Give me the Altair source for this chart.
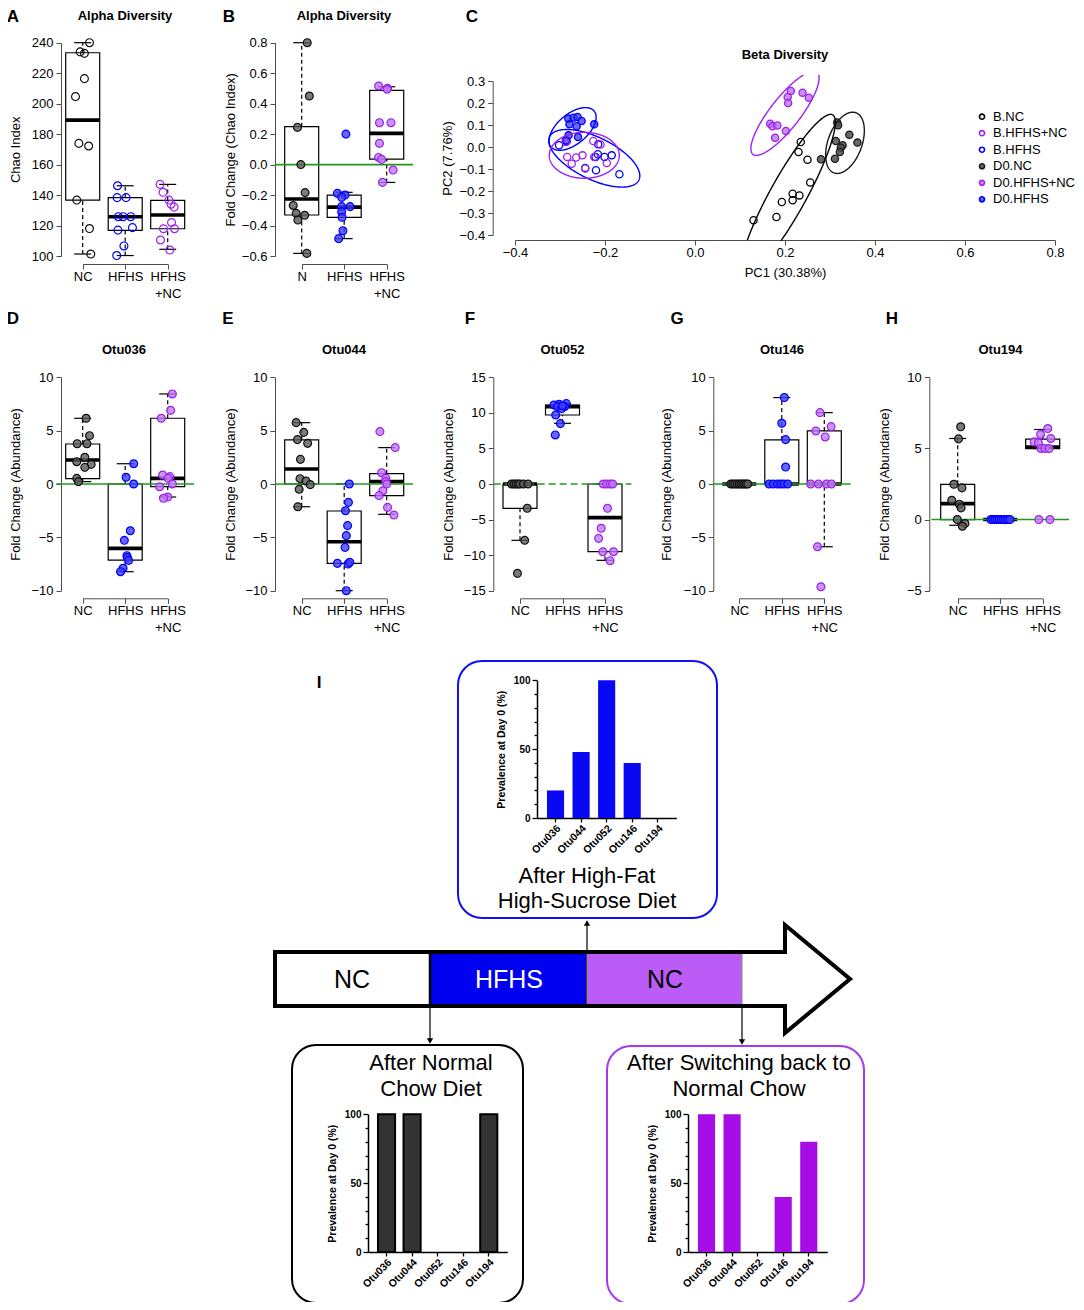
import json
import numpy as np
import pandas as pd
import altair as alt

# ---------------------------------------------------------------- canvas
W, H = 1068, 1294
M = 8
FONT = "Liberation Sans"
AXC = "#4d4d4d"
GREEN = "#1f9a1f"


def P(v):
    return v - M


GROUPS = ["NC", "HFHS", "HFHS+NC"]
PT_FILL = {"NC": "#5a5a5a", "HFHS": "#4040f2", "HFHS+NC": "#bd7cf0"}
PT_EDGE = {"NC": "#111111", "HFHS": "#0000ff", "HFHS+NC": "#a020f0"}
X_LABELS = ["NC", "HFHS", "HFHS\n+NC"]
X_LABELS_B = ["N", "HFHS", "HFHS\n+NC"]

# ---------------------------------------------------------------- panel A (Chao index)
A_VALS = {
    "NC": [240, 234, 233, 216.4, 204.6, 173.9, 172.2, 136.7, 118, 101.3],
    "HFHS": [146.1, 138.3, 138.3, 125.8, 125.8, 125.8, 117, 118.6, 106.6, 100.3],
    "HFHS+NC": [147, 141.8, 136.7, 134, 132.1, 122, 117.9, 117.9, 110.5, 103.9],
}
A_JIT = {
    "NC": [0.16, -0.06, 0.04, 0.04, -0.17, -0.09, 0.14, -0.14, 0.16, 0.19],
    "HFHS": [-0.18, -0.19, 0.02, -0.16, -0.05, 0.13, -0.17, 0.17, -0.03, -0.2],
    "HFHS+NC": [-0.18, -0.11, 0.03, 0.08, 0.15, 0.09, -0.1, 0.16, -0.17, 0.05],
}
A_BOX = {  # q1, median, q3, lower whisker, upper whisker
    "NC": (136.7, 189.2, 233.4, 101.3, 240),
    "HFHS": (116.8, 125.8, 138.3, 100.3, 146.1),
    "HFHS+NC": (117.9, 126.9, 136.5, 104.4, 147),
}

# ---------------------------------------------------------------- panel B (fold change Chao)
B_VALS = {
    "NC": [0.8, 0.45, 0.244, 0.0, -0.184, -0.268, -0.32, -0.333, -0.364, -0.583],
    "HFHS": [0.2, -0.189, -0.2, -0.215, -0.276, -0.276, -0.31, -0.346, -0.434, -0.486],
    "HFHS+NC": [0.516, 0.5, 0.494, 0.275, 0.275, 0.139, 0.047, 0.034, -0.036, -0.117],
}
B_JIT = {
    "NC": [0.13, 0.18, -0.1, -0.02, 0.08, -0.2, -0.13, 0.07, -0.09, 0.12],
    "HFHS": [0.04, -0.16, 0.02, -0.06, -0.06, 0.14, -0.06, -0.05, -0.03, -0.13],
    "HFHS+NC": [-0.19, 0.02, 0.01, -0.17, 0.1, -0.17, -0.19, -0.12, 0.15, -0.1],
}
B_BOX = {
    "NC": (-0.331, -0.226, 0.249, -0.583, 0.8),
    "HFHS": (-0.346, -0.279, -0.2, -0.486, -0.182),
    "HFHS+NC": (0.036, 0.205, 0.487, -0.117, 0.511),
}

# ---------------------------------------------------------------- panels D-H (fold change abundance)
D_VALS = {
    "NC": [6.16, 4.53, 3.78, 3.78, 2.5, 2.09, 1.84, 1.56, 0.53, 0.22],
    "HFHS": [1.9, 0.63, 0.0, -4.38, -5.28, -6.72, -6.9, -7.16, -7.9, -8.22],
    "HFHS+NC": [8.44, 6.9, 6.16, 0.84, 0.69, 0.53, 0.0, -0.25, -1.22, -1.34],
}
D_JIT = {
    "NC": [0.08, 0.16, -0.13, 0.1, 0.05, -0.14, 0.2, 0.05, -0.14, -0.1],
    "HFHS": [0.2, 0.02, 0.2, 0.12, -0.02, 0.04, 0.05, 0.08, -0.05, -0.11],
    "HFHS+NC": [0.11, 0.07, -0.15, -0.12, 0.05, 0.01, 0.11, -0.19, 0.0, -0.1],
}
D_BOX = {
    "NC": (0.5, 2.25, 3.75, 0.22, 6.16),
    "HFHS": (-7.13, -6.03, 0.0, -8.22, 1.9),
    "HFHS+NC": (-0.25, 0.53, 6.16, -1.22, 8.44),
}

E_VALS = {
    "NC": [5.75, 4.84, 4.16, 3.81, 2.31, 0.5, 0.28, -0.06, -0.5, -2.13],
    "HFHS": [0.0, -1.72, -2.5, -3.9, -4.84, -5.94, -7.44, -7.5, -7.34, -10.0],
    "HFHS+NC": [4.91, 3.41, 1.06, 0.53, 0.22, 0.0, -0.63, -1.09, -2.19, -2.91],
}
E_JIT = {
    "NC": [-0.13, 0.05, -0.1, 0.14, -0.03, -0.04, 0.1, 0.2, -0.06, -0.09],
    "HFHS": [0.12, 0.1, 0.03, 0.08, 0.05, 0.02, -0.16, 0.09, 0.13, 0.05],
    "HFHS+NC": [-0.16, 0.2, -0.12, -0.02, -0.02, 0.0, -0.09, -0.18, 0.02, 0.17],
}
E_BOX = {
    "NC": (0.0, 1.41, 4.13, -2.13, 5.75),
    "HFHS": (-7.44, -5.41, -2.53, -10.0, 0.0),
    "HFHS+NC": (-1.09, 0.22, 0.97, -2.84, 3.41),
}

F_VALS = {
    "NC": [0, 0, 0, 0, 0, 0, 0, -3.42, -7.92, -12.56],
    "HFHS": [11.3, 11.2, 11.1, 10.9, 10.9, 10.6, 9.7, 8.49, 6.9, 11.0],
    "HFHS+NC": [0, 0, 0, 0, -3.42, -6.23, -7.64, -9.52, -9.52, -10.78],
}
F_JIT = {
    "NC": [-0.2, -0.14, -0.09, -0.04, 0.0, 0.08, 0.19, 0.17, 0.11, -0.06],
    "HFHS": [0.09, -0.08, -0.2, 0.05, -0.12, -0.02, -0.16, -0.05, -0.17, 0.0],
    "HFHS+NC": [-0.04, 0.04, 0.12, 0.18, 0.06, -0.09, -0.15, -0.05, 0.2, 0.12],
}
F_BOX = {
    "NC": (-3.42, 0.0, 0.0, -7.92, 0.0),
    "HFHS": (9.7, 10.88, 11.1, 8.53, 11.3),
    "HFHS+NC": (-9.52, -4.73, 0.0, -10.73, 0.0),
}

G_VALS = {
    "NC": [0, 0, 0, 0, 0, 0, 0, 0, 0, 0],
    "HFHS": [8.1, 5.69, 4.16, 1.59, 0, 0, 0, 0, 0, 0],
    "HFHS+NC": [6.69, 5.38, 4.97, 4.41, 0, 0, 0, 0, -5.88, -9.63],
}
G_JIT = {
    "NC": [-0.2, -0.15, -0.1, -0.05, 0.0, 0.04, 0.08, 0.12, 0.16, 0.2],
    "HFHS": [0.06, 0.0, 0.09, 0.09, -0.3, -0.2, -0.1, -0.02, 0.05, 0.14],
    "HFHS+NC": [-0.1, 0.16, -0.2, 0.02, -0.32, -0.14, 0.05, 0.17, -0.16, -0.08],
}
G_BOX = {
    "NC": (0, 0, 0, 0, 0),
    "HFHS": (0, 0, 4.13, 0, 8.1),
    "HFHS+NC": (0, 0, 4.97, -5.88, 6.69),
}

H_VALS = {
    "NC": [6.52, 5.67, 2.48, 2.23, 1.36, 1.08, 0.82, 0.0, -0.28, -0.47],
    "HFHS": [0, 0, 0, 0, 0, 0, 0, 0, 0, 0],
    "HFHS+NC": [6.4, 5.98, 5.7, 5.46, 5.39, 5.0, 5.0, 5.0, 0, 0],
}
H_JIT = {
    "NC": [0.07, 0.02, -0.09, 0.1, -0.14, 0.04, 0.08, -0.01, 0.17, 0.11],
    "HFHS": [-0.22, -0.17, -0.12, -0.07, -0.02, 0.03, 0.08, 0.13, 0.18, 0.23],
    "HFHS+NC": [0.12, -0.05, 0.19, -0.2, -0.1, -0.04, 0.05, 0.15, -0.09, 0.17],
}
H_BOX = {
    "NC": (0.0, 1.12, 2.48, -0.4, 5.7),
    "HFHS": (0, 0, 0, 0, 0),
    "HFHS+NC": (4.99, 5.1, 5.65, 4.99, 6.33),
}

# ---------------------------------------------------------------- panel C (PCoA)
C_POINTS = {
    "D0.HFHS": ([-0.2815, -0.270, -0.261, -0.252, -0.279, -0.263, -0.224, -0.281, -0.260, -0.287],
                [0.129, 0.133, 0.136, 0.118, 0.103, 0.094, 0.103, 0.053, 0.045, 0.030]),
    "B.HFHS": ([-0.302, -0.216, -0.221, -0.201, -0.185, -0.220, -0.244, -0.168, -0.285, -0.215],
               [0.008, -0.033, -0.045, -0.045, -0.038, -0.106, -0.095, -0.124, 0.026, 0.012]),
    "B.HFHS+NC": ([-0.287, -0.226, -0.210, -0.284, -0.264, -0.250, -0.274, -0.224, -0.196, -0.244],
                  [0.023, 0.027, 0.011, -0.045, -0.048, -0.038, -0.076, -0.045, -0.073, -0.098]),
    "D0.HFHS+NC": ([0.167, 0.172, 0.183, 0.178, 0.202, 0.206, 0.213, 0.207, 0.239, 0.253],
                   [0.106, 0.094, 0.098, 0.042, 0.073, 0.227, 0.255, 0.200, 0.247, 0.224]),
    "B.NC": ([0.235, 0.230, 0.250, 0.256, 0.217, 0.232, 0.217, 0.193, 0.181, 0.130],
             [0.023, -0.023, -0.058, -0.161, -0.212, -0.220, -0.242, -0.250, -0.318, -0.333]),
    "D0.NC": ([0.316, 0.318, 0.343, 0.361, 0.313, 0.328, 0.324, 0.322, 0.311, 0.280],
              [0.111, 0.099, 0.056, 0.020, 0.027, 0.008, -0.003, -0.023, -0.053, -0.056]),
}
C_STYLE = {  # fill, edge, fill opacity
    "B.NC": ("#ffffff", "#000000", 0.0),
    "B.HFHS+NC": ("#ffffff", "#a020f0", 0.0),
    "B.HFHS": ("#ffffff", "#0000ff", 0.0),
    "D0.NC": ("#4f4f4f", "#1a1a1a", 0.85),
    "D0.HFHS+NC": ("#b36be6", "#a020f0", 0.75),
    "D0.HFHS": ("#3a3ae6", "#0000ff", 0.75),
}
LEGEND_ORDER = ["B.NC", "B.HFHS+NC", "B.HFHS", "D0.NC", "D0.HFHS+NC", "D0.HFHS"]
# dispersion ellipses: centre, two conjugate semi-axis vectors (PC1, PC2 units)
C_ELLIPSES = {
    "D0.HFHS": ((-0.272, 0.082), (0.0477, 0.0818), (0.0214, -0.0522)),
    "B.HFHS": ((-0.2238, -0.0514), (0.0991, -0.0988), (-0.0204, -0.0859)),
    "B.HFHS+NC": ((-0.246, -0.0377), (0.0778, 0.0), (0.0, 0.1045)),
    "D0.HFHS+NC": ((0.200, 0.153), (0.0711, 0.1864), (0.0263, -0.042)),
    "B.NC": ((0.2067, -0.2195), (0.0991, 0.3659), (0.035, -0.0397)),
    "D0.NC": ((0.3333, 0.019), (0.0243, 0.1367), (0.0355, -0.0264)),
}
C_XLIM = (-0.448, 0.848)
C_YLIM = (-0.428, 0.328)

# ---------------------------------------------------------------- panel I (prevalence)
OTUS = ["Otu036", "Otu044", "Otu052", "Otu146", "Otu194"]
PREV_HFHS = [20, 48, 100, 40, 0]
PREV_NC = [100, 100, 0, 0, 100]
PREV_BACK = [100, 100, 0, 40, 80]

# ---------------------------------------------------------------- helpers
RAX = dict(grid=False, domainColor=AXC, tickColor=AXC, tickSize=5, labelFont=FONT,
           labelFontSize=13, labelColor="black", titleFont=FONT, titleFontSize=13,
           titleFontWeight="normal", titleColor="black", labelFlush=False,
           labelOverlap=False, domainWidth=1, tickWidth=1)


def label_expr(labels):
    arr = [l.split("\n") for l in labels]
    return json.dumps(arr) + "[round(datum.value) - 1]"


def box_panel(vals, jit, box, geo, open_pts=False, zero=True, zero_dash=False):
    rows = []
    for gi, g in enumerate(GROUPS):
        for v, j in zip(vals[g], jit[g]):
            rows.append({"pos": gi + 1 + j, "val": v, "fill": PT_FILL[g], "edge": PT_EDGE[g]})
    pts = pd.DataFrame(rows)
    bdf = pd.DataFrame([{"g": gi + 1, "q1": box[g][0], "med": box[g][1], "q3": box[g][2],
                         "lo": box[g][3], "hi": box[g][4]} for gi, g in enumerate(GROUPS)])
    xs = alt.Scale(domain=[1, 3], range=[P(geo["x1"]), P(geo["x3"])], nice=False, zero=False)
    ys = alt.Scale(domain=geo["ydom"], range=[P(geo["ybot"]), P(geo["ytop"])], nice=False, zero=False)
    xaxis = alt.Axis(orient="bottom", offset=P(geo["xaxis"]) - H, values=[1, 2, 3],
                     labelExpr=label_expr(geo["labels"]), title=None, labelPadding=1.5,
                     labelBaseline="top", labelLineHeight=17, **RAX)
    yaxis = alt.Axis(orient="left", offset=-P(geo["yaxis"]), values=geo["yvals"], format=geo["fmt"],
                     title=geo["ytitle"], titleX=geo["ytx"] - geo["yaxis"],
                     titleY=P((geo["ytop"] + geo["ybot"]) / 2), titleAngle=270,
                     titleBaseline="middle", titleAlign="center", labelPadding=3, **RAX)

    def X(f):
        return alt.X(f, scale=xs, axis=None)

    def Y(f):
        return alt.Y(f, scale=ys, axis=None)

    base = alt.Chart(bdf).transform_calculate(
        l="datum.g - 0.4", r="datum.g + 0.4", cl="datum.g - 0.2", cr="datum.g + 0.2")
    rect = base.mark_rect(fill="white", stroke="black", strokeWidth=1.2).encode(
        x=alt.X("l:Q", scale=xs, axis=xaxis), x2="r:Q",
        y=alt.Y("q1:Q", scale=ys, axis=yaxis), y2="q3:Q")
    wup = base.mark_rule(color="black", strokeWidth=1.2, strokeDash=[4, 3]).encode(
        x=X("g:Q"), y=Y("q3:Q"), y2="hi:Q")
    wdn = base.mark_rule(color="black", strokeWidth=1.2, strokeDash=[4, 3]).encode(
        x=X("g:Q"), y=Y("lo:Q"), y2="q1:Q")
    capu = base.mark_rule(color="black", strokeWidth=1.2).encode(x=X("cl:Q"), x2="cr:Q", y=Y("hi:Q"))
    capd = base.mark_rule(color="black", strokeWidth=1.2).encode(x=X("cl:Q"), x2="cr:Q", y=Y("lo:Q"))
    med = base.mark_rule(color="black", strokeWidth=3.6).encode(x=X("l:Q"), x2="r:Q", y=Y("med:Q"))
    out = [rect, wup, wdn, capu, capd, med]
    if zero:
        zdf = pd.DataFrame({"a": [0.38], "b": [3.62], "z": [0.0]})
        zkw = dict(strokeDash=[7, 4]) if zero_dash else {}
        out.append(alt.Chart(zdf).mark_rule(color=GREEN, strokeWidth=1.6, **zkw).encode(
            x=X("a:Q"), x2="b:Q", y=Y("z:Q")))
    out.append(alt.Chart(pts).mark_point(
        filled=True, shape="circle", size=62, strokeWidth=1.2, opacity=1,
        fillOpacity=0.0 if open_pts else 0.8).encode(
        x=X("pos:Q"), y=Y("val:Q"),
        fill=alt.Fill("fill:N", scale=None), stroke=alt.Stroke("edge:N", scale=None)))
    return out


def row2_geo(yaxis, x1, ydom, yvals, ytx):
    return dict(x1=x1, x3=x1 + 85, yaxis=yaxis, xaxis=598.3, ytop=377.3, ybot=590.7,
                ydom=ydom, yvals=yvals, fmt="d", ytitle="Fold Change (Abundance)",
                ytx=ytx, labels=X_LABELS)


GEO_A = dict(x1=82.7, x3=167.7, yaxis=61, xaxis=264, ytop=42.7, ybot=256, ydom=[100, 240],
             yvals=list(range(100, 241, 20)), fmt="d", ytitle="Chao Index", ytx=15.5, labels=X_LABELS)
GEO_B = dict(x1=301.7, x3=386.7, yaxis=275, xaxis=264, ytop=42.7, ybot=256, ydom=[-0.6, 0.8],
             yvals=[-0.6, -0.4, -0.2, 0.0, 0.2, 0.4, 0.6, 0.8], fmt=".1f",
             ytitle="Fold Change (Chao Index)", ytx=230, labels=X_LABELS_B)
T10 = [-10, -5, 0, 5, 10]
GEO_D = row2_geo(61, 82.7, [-10, 10], T10, 15.5)
GEO_E = row2_geo(275, 301.7, [-10, 10], T10, 230)
GEO_F = row2_geo(493.3, 520, [-15, 15], [-15, -10, -5, 0, 5, 10, 15], 448)
GEO_G = row2_geo(713.3, 739.3, [-10, 10], T10, 666)
GEO_H = row2_geo(929.3, 957.7, [-5, 10], [-5, 0, 5, 10], 884)

layers = []
layers += box_panel(A_VALS, A_JIT, A_BOX, GEO_A, open_pts=True, zero=False)
layers += box_panel(B_VALS, B_JIT, B_BOX, GEO_B)
layers += box_panel(D_VALS, D_JIT, D_BOX, GEO_D)
layers += box_panel(E_VALS, E_JIT, E_BOX, GEO_E)
layers += box_panel(F_VALS, F_JIT, F_BOX, GEO_F, zero_dash=True)
layers += box_panel(G_VALS, G_JIT, G_BOX, GEO_G)
layers += box_panel(H_VALS, H_JIT, H_BOX, GEO_H)

# ---------------------------------------------------------------- panel C build
crow = []
for grp, (xv, yv) in C_POINTS.items():
    f, e, o = C_STYLE[grp]
    for a, b in zip(xv, yv):
        crow.append({"PC1": a, "PC2": b, "grp": grp, "fill": f, "edge": e, "fop": o})
cdf = pd.DataFrame(crow)

ell_rows = []
tt = np.linspace(0, 2 * np.pi, 361)
for grp, (c, u, v) in C_ELLIPSES.items():
    col = C_STYLE[grp][1]
    seg, prev_in = 0, False
    for k, t in enumerate(tt):
        ex = c[0] + u[0] * np.cos(t) + v[0] * np.sin(t)
        ey = c[1] + u[1] * np.cos(t) + v[1] * np.sin(t)
        inside = C_XLIM[0] <= ex <= C_XLIM[1] and C_YLIM[0] <= ey <= C_YLIM[1]
        if inside:
            if not prev_in:
                seg += 1
            ell_rows.append({"PC1": ex, "PC2": ey, "k": k, "seg": f"{grp}-{seg}", "col": col})
        prev_in = inside
edf = pd.DataFrame(ell_rows)

cxs = alt.Scale(domain=[-0.4, 0.8], range=[P(515), P(1055)], nice=False, zero=False)
cys = alt.Scale(domain=[-0.4, 0.3], range=[P(235), P(81)], nice=False, zero=False)
c_xaxis = alt.Axis(orient="bottom", offset=P(240) - H, values=[-0.4, -0.2, 0.0, 0.2, 0.4, 0.6, 0.8],
                   format=".1f", title="PC1 (30.38%)", titleX=P(785), titleY=272 - 240,
                   titleBaseline="middle", titleAlign="center", labelPadding=1.5, **RAX)
c_yaxis = alt.Axis(orient="left", offset=-P(492.7), values=[-0.4, -0.3, -0.2, -0.1, 0.0, 0.1, 0.2, 0.3],
                   format=".1f", title="PC2 (7.76%)", titleX=447 - 492.7, titleY=P(158),
                   titleAngle=270, titleBaseline="middle", titleAlign="center", labelPadding=3, **RAX)
c_pts = alt.Chart(cdf).mark_point(filled=True, shape="circle", size=52, strokeWidth=1.3, opacity=1).encode(
    x=alt.X("PC1:Q", scale=cxs, axis=c_xaxis), y=alt.Y("PC2:Q", scale=cys, axis=c_yaxis),
    fill=alt.Fill("fill:N", scale=None), stroke=alt.Stroke("edge:N", scale=None),
    fillOpacity=alt.FillOpacity("fop:Q", scale=None))
c_ell = alt.Chart(edf).mark_line(strokeWidth=1.4).encode(
    x=alt.X("PC1:Q", scale=cxs, axis=None), y=alt.Y("PC2:Q", scale=cys, axis=None),
    detail="seg:N", order="k:Q", stroke=alt.Stroke("col:N", scale=None))
layers += [c_pts, c_ell]

ldf = pd.DataFrame([{"grp": g, "fill": C_STYLE[g][0], "edge": C_STYLE[g][1], "fop": C_STYLE[g][2]}
                    for g in LEGEND_ORDER])
lys = alt.Scale(domain=LEGEND_ORDER, range=[P(116.7), P(199.3)], padding=0)
leg_pts = alt.Chart(ldf).mark_point(filled=True, shape="circle", size=26, strokeWidth=1.6, opacity=1).encode(
    x=alt.value(P(982)), y=alt.Y("grp:N", scale=lys, axis=None),
    fill=alt.Fill("fill:N", scale=None), stroke=alt.Stroke("edge:N", scale=None),
    fillOpacity=alt.FillOpacity("fop:Q", scale=None))
leg_txt = alt.Chart(ldf).mark_text(align="left", baseline="middle", font=FONT, fontSize=13, color="black").encode(
    x=alt.value(P(993)), y=alt.Y("grp:N", scale=lys, axis=None), text="grp:N")
layers += [leg_pts, leg_txt]

# ---------------------------------------------------------------- panel I diagram
ARROW = [(275, 952), (785, 952), (785, 925), (850, 979), (785, 1033), (785, 1006), (275, 1006), (275, 952)]
adf = pd.DataFrame({"x": [P(a) for a, b in ARROW], "y": [P(b) for a, b in ARROW], "i": range(len(ARROW))})
phases = pd.DataFrame([
    {"x": P(430), "x2": P(587), "y": P(952), "y2": P(1006), "f": "#0000f0", "s": "#000000", "w": 2.5},
    {"x": P(587), "x2": P(742), "y": P(952), "y2": P(1006), "f": "#ba5cf5", "s": "#8a8a8a", "w": 1.0},
])
ph = alt.Chart(phases).mark_rect().encode(
    x=alt.X("x:Q", scale=None), x2="x2:Q", y=alt.Y("y:Q", scale=None), y2="y2:Q",
    fill=alt.Fill("f:N", scale=None), stroke=alt.Stroke("s:N", scale=None),
    strokeWidth=alt.StrokeWidth("w:Q", scale=None))
outline = alt.Chart(adf).mark_line(color="black", strokeWidth=4, strokeJoin="miter", strokeCap="square").encode(
    x=alt.X("x:Q", scale=None), y=alt.Y("y:Q", scale=None), order="i:Q")
links = pd.DataFrame([
    {"x": P(587), "y": P(952), "y2": P(924), "hy": P(923), "s": "triangle-up"},
    {"x": P(430), "y": P(1008), "y2": P(1040), "hy": P(1041), "s": "triangle-down"},
    {"x": P(742), "y": P(1008), "y2": P(1041), "hy": P(1042), "s": "triangle-down"},
])
lk = alt.Chart(links).mark_rule(color="black", strokeWidth=1.2).encode(
    x=alt.X("x:Q", scale=None), y=alt.Y("y:Q", scale=None), y2="y2:Q")
lh = alt.Chart(links).mark_point(filled=True, color="black", size=40, opacity=1).encode(
    x=alt.X("x:Q", scale=None), y=alt.Y("hy:Q", scale=None), shape=alt.Shape("s:N", scale=None))
frames = pd.DataFrame([
    {"x": P(458), "x2": P(717), "y": P(661), "y2": P(918), "c": "#1010f0"},
    {"x": P(292), "x2": P(523), "y": P(1045), "y2": P(1303), "c": "#000000"},
    {"x": P(607), "x2": P(864), "y": P(1046), "y2": P(1304), "c": "#a838f0"},
])
fr = alt.Chart(frames).mark_rect(cornerRadius=24, fill="white", fillOpacity=0, strokeWidth=2).encode(
    x=alt.X("x:Q", scale=None), x2="x2:Q", y=alt.Y("y:Q", scale=None), y2="y2:Q",
    stroke=alt.Stroke("c:N", scale=None))
layers += [ph, outline, lk, lh, fr]


def mini(vals, ax, y0, fill, stroke=None, sw=0):
    df = pd.DataFrame({"otu": OTUS, "prev": vals})
    xs = alt.Scale(domain=OTUS, range=[P(ax), P(ax + 139.3)], paddingInner=0.33, paddingOuter=0.39)
    ys = alt.Scale(domain=[0, 100], range=[P(y0), P(y0 - 137.7)], nice=False, zero=True)
    common = dict(grid=False, domainColor="black", domainWidth=1.5, tickColor="black", tickWidth=1.3,
                  labelFont=FONT, labelFontWeight="bold", labelColor="black", labelFlush=False)
    xaxis = alt.Axis(orient="bottom", offset=P(y0) - H, title=None, labelAngle=-45, labelAlign="right",
                     labelBaseline="top", labelFontSize=10.5, tickSize=4, labelPadding=1, labelOverlap=False,
                     **common)
    yaxis = alt.Axis(orient="left", offset=-P(ax), values=list(range(0, 101, 10)),
                     labelExpr="datum.value % 50 === 0 ? datum.label : ''",
                     tickSize={"condition": {"test": "datum.value % 50 === 0", "value": 5}, "value": 3},
                     labelFontSize=10, labelPadding=2, title="Prevalence at Day 0 (%)",
                     titleFont=FONT, titleFontWeight="bold", titleFontSize=10.5, titleColor="black",
                     titleX=-36, titleY=P(y0 - 68.8), titleAngle=270, titleBaseline="middle",
                     titleAlign="center", **common)
    kw = dict(color=fill)
    if stroke:
        kw.update(stroke=stroke, strokeWidth=sw)
    return alt.Chart(df).transform_filter("datum.prev > 0").mark_bar(**kw).encode(
        x=alt.X("otu:N", sort=OTUS, scale=xs, axis=xaxis),
        y=alt.Y("prev:Q", scale=ys, axis=yaxis))


layers += [
    mini(PREV_HFHS, 537, 818, "#0808f2"),
    mini(PREV_NC, 368, 1252, "#333333", "#000000", 2),
    mini(PREV_BACK, 688, 1252, "#a60ce6"),
]

# ---------------------------------------------------------------- text
LETTERS = [("A", 13, 17), ("B", 229, 16.5), ("C", 472, 16.5), ("D", 13, 319), ("E", 228, 319),
           ("F", 470, 319), ("G", 677, 319), ("H", 892, 319), ("I", 319, 683)]
TITLES = [("Alpha Diversity", 125, 16), ("Alpha Diversity", 344, 16), ("Beta Diversity", 785, 55),
          ("Otu036", 124, 350), ("Otu044", 344, 350), ("Otu052", 562.5, 350),
          ("Otu146", 782, 350), ("Otu194", 1000.5, 350)]
CAPTIONS = [("After High-Fat", 587, 876), ("High-Sucrose Diet", 587, 901),
            ("After Normal", 431, 1063), ("Chow Diet", 431, 1089),
            ("After Switching back to", 739, 1063), ("Normal Chow", 739, 1089)]
PHASE_LABELS = [("NC", 352, 980, "#000000"), ("HFHS", 509, 980, "#ffffff"), ("NC", 665, 980, "#000000")]


def tdf(items):
    return pd.DataFrame([{"t": it[0], "x": P(it[1]), "y": P(it[2]),
                          "c": it[3] if len(it) > 3 else "#000000"} for it in items])


def text_layer(items, size, weight):
    return alt.Chart(tdf(items)).mark_text(
        font=FONT, fontSize=size, fontWeight=weight, align="center", baseline="middle").encode(
        x=alt.X("x:Q", scale=None), y=alt.Y("y:Q", scale=None), text="t:N",
        color=alt.Color("c:N", scale=None))


layers += [
    text_layer(LETTERS, 17, "bold"),
    text_layer(TITLES, 13, "bold"),
    text_layer(CAPTIONS, 22, "normal"),
    text_layer(PHASE_LABELS, 25, "normal"),
]

chart = alt.layer(*layers).properties(
    width=W, height=H, padding=0, background="white",
    autosize=alt.AutoSizeParams(type="none"),
).resolve_scale(x="independent", y="independent").resolve_axis(
    x="independent", y="independent").configure_view(stroke="transparent")

chart.save("out.html", embed_options={"renderer": "svg", "actions": False})
